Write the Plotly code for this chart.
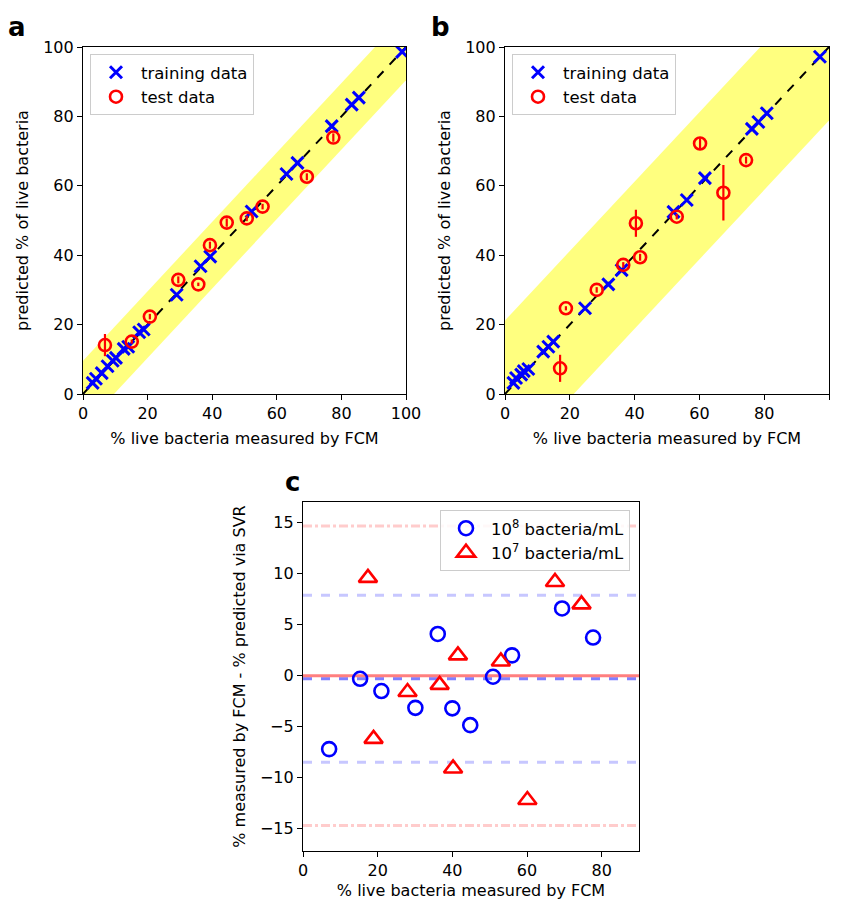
import plotly.graph_objects as go

W, H = 844, 900

# ---------------- Panel a data ----------------
a_train_x = [3.0, 4.0, 5.8, 7.6, 9.2, 10.2, 12.6, 14.0, 17.4, 18.8, 29.0, 36.4, 39.4, 52.2, 63.0, 66.4, 77.0, 83.2, 85.4, 98.8]
a_train_y = [3.2, 4.4, 6.0, 8.0, 9.6, 10.4, 13.0, 13.6, 17.8, 18.6, 28.6, 36.8, 39.6, 52.6, 63.4, 66.6, 77.2, 83.4, 85.4, 98.6]
a_test_x = [6.8, 15.1, 20.7, 29.5, 35.7, 39.3, 44.5, 50.7, 55.6, 69.3, 77.5]
a_test_y = [14.1, 15.1, 22.3, 32.9, 31.6, 42.9, 49.4, 50.6, 54.0, 62.6, 73.9]
a_test_err = [3.2, 0.6, 0.8, 1.0, 0.5, 1.0, 1.2, 0.8, 0.8, 1.0, 1.2]
a_band = 9.6

# ---------------- Panel b data ----------------
b_train_x = [2.6, 3.4, 5.0, 5.8, 7.2, 11.8, 13.4, 14.9, 24.7, 31.9, 36.0, 52.0, 56.1, 61.7, 76.2, 78.2, 80.8, 97.2]
b_train_y = [3.2, 4.6, 5.6, 6.6, 7.2, 12.2, 13.6, 15.1, 24.7, 31.6, 35.7, 52.5, 55.9, 62.2, 76.4, 78.4, 80.9, 97.2]
b_test_x = [17.0, 18.8, 28.3, 36.5, 40.4, 41.7, 53.0, 60.2, 67.4, 74.4]
b_test_y = [7.4, 24.7, 30.0, 37.2, 49.2, 39.4, 51.1, 72.2, 58.0, 67.4]
b_test_err = [3.9, 0.6, 0.8, 0.8, 3.9, 1.0, 0.8, 1.5, 8.0, 1.0]
b_band = 21.2

# ---------------- Panel c data ----------------
c8_x = [7.0, 15.3, 21.0, 30.1, 36.1, 40.0, 44.8, 50.9, 56.0, 69.4, 77.7]
c8_y = [-7.2, -0.3, -1.5, -3.15, 4.1, -3.2, -4.85, -0.1, 2.0, 6.6, 3.75]
c7_x = [17.4, 18.9, 28.0, 36.6, 41.5, 40.2, 53.0, 60.1, 67.5, 74.6]
c7_y = [9.6, -6.2, -1.6, -0.9, 2.0, -9.1, 1.4, -12.2, 9.2, 7.0]
c8_mean, c8_upper, c8_lower = -0.3, 7.9, -8.5
c7_mean, c7_upper, c7_lower = 0.0, 14.7, -14.7

xy_ticks = [0, 20, 40, 60, 80, 100]
c_xticks = [0, 20, 40, 60, 80]
c_yticks = [-15, -10, -5, 0, 5, 10, 15]
c_yticktext = ["\u221215", "\u221210", "\u22125", "0", "5", "10", "15"]

FONT = "DejaVu Sans"
BLUE = "#0000ff"
RED = "#ff0000"

fig = go.Figure()


def band_trace(w, xa, ya):
    lo, hi = 0, 100
    xs = [lo, hi, hi, lo, lo]
    ys = [lo + w, hi + w, hi - w, lo - w, lo + w]
    return go.Scatter(x=xs, y=ys, fill="toself", fillcolor="rgba(255,255,0,0.5)",
                      line=dict(width=0), mode="lines", hoverinfo="skip",
                      showlegend=False, xaxis=xa, yaxis=ya)


def add_panel(xa, ya, leg, tx, ty, sx, sy, se, w):
    fig.add_trace(band_trace(w, xa, ya))
    fig.add_trace(go.Scatter(x=[0, 100], y=[0, 100], mode="lines",
                             line=dict(color="black", width=2, dash="dash"),
                             showlegend=False, xaxis=xa, yaxis=ya))
    fig.add_trace(go.Scatter(x=tx, y=ty, mode="markers", name="training data",
                             marker=dict(symbol="x-thin-open", size=12, color=BLUE,
                                         line=dict(color=BLUE, width=3)),
                             legend=leg, xaxis=xa, yaxis=ya))
    fig.add_trace(go.Scatter(x=sx, y=sy, mode="markers", name="test data",
                             marker=dict(symbol="circle-open", size=12, color=RED,
                                         line=dict(color=RED, width=2.6)),
                             error_y=dict(type="data", array=se, color=RED,
                                          thickness=2.2, width=0),
                             legend=leg, xaxis=xa, yaxis=ya))


add_panel("x", "y", "legend", a_train_x, a_train_y, a_test_x, a_test_y, a_test_err, a_band)
add_panel("x2", "y2", "legend2", b_train_x, b_train_y, b_test_x, b_test_y, b_test_err, b_band)

fig.add_trace(go.Scatter(x=c8_x, y=c8_y, mode="markers",
                         name="10<sup>8</sup> bacteria/mL",
                         marker=dict(symbol="circle-open", size=14, color=BLUE,
                                     line=dict(color=BLUE, width=2.6)),
                         legend="legend3", xaxis="x3", yaxis="y3"))
fig.add_trace(go.Scatter(x=c7_x, y=c7_y, mode="markers",
                         name="10<sup>7</sup> bacteria/mL",
                         marker=dict(symbol="triangle-up-open", size=16, color=RED,
                                     line=dict(color=RED, width=2.6)),
                         legend="legend3", xaxis="x3", yaxis="y3"))

hlines = [
    (c7_upper, "rgba(255,0,0,0.2)", "dashdot"),
    (c7_lower, "rgba(255,0,0,0.2)", "dashdot"),
    (c8_upper, "rgba(0,0,255,0.22)", "dash"),
    (c8_lower, "rgba(0,0,255,0.22)", "dash"),
    (c8_mean, "rgba(0,0,255,0.5)", "dash"),
    (c7_mean, "rgba(255,0,0,0.5)", "solid"),
]
for yv, col, dash in hlines:
    fig.add_shape(type="line", xref="x3 domain", yref="y3", x0=0, x1=1, y0=yv, y1=yv,
                  line=dict(color=col, width=3, dash=dash), layer="below")


def px_x(p):
    return p / W


def px_y(p):
    return 1 - p / H


axis_common = dict(showline=True, linecolor="black", linewidth=1.2, mirror=True,
                   ticks="outside", ticklen=5, tickcolor="black", showgrid=False,
                   zeroline=False, automargin=False,
                   tickfont=dict(family=FONT, size=16, color="black"))
title_font = dict(family=FONT, size=16, color="black")
leg_common = dict(bgcolor="rgba(255,255,255,0.85)", bordercolor="#cccccc", borderwidth=1,
                  font=dict(family=FONT, size=16.5), itemwidth=40)

fig.update_layout(
    width=W, height=H, margin=dict(l=0, r=0, t=0, b=0, autoexpand=False),
    plot_bgcolor="white", paper_bgcolor="white",
    font=dict(family=FONT, size=16, color="black"),
    xaxis=dict(domain=[px_x(83), px_x(406)], range=[0, 100], tickvals=xy_ticks,
               title=dict(text="% live bacteria measured by FCM", font=title_font, standoff=10),
               anchor="y", **axis_common),
    yaxis=dict(domain=[px_y(394), px_y(47)], range=[0, 100], tickvals=xy_ticks,
               title=dict(text="predicted % of live bacteria", font=title_font, standoff=10),
               anchor="x", **axis_common),
    xaxis2=dict(domain=[px_x(505), px_x(829)], range=[0, 100], tickvals=xy_ticks,
                title=dict(text="% live bacteria measured by FCM", font=title_font, standoff=10),
                anchor="y2", **axis_common),
    yaxis2=dict(domain=[px_y(394), px_y(47)], range=[0, 100], tickvals=xy_ticks,
                title=dict(text="predicted % of live bacteria", font=title_font, standoff=10),
                anchor="x2", **axis_common),
    xaxis3=dict(domain=[px_x(303), px_x(639)], range=[0, 90], tickvals=c_xticks,
                title=dict(text="% live bacteria measured by FCM", font=title_font, standoff=10),
                anchor="y3", **axis_common),
    yaxis3=dict(domain=[px_y(851), px_y(502)], range=[-17.2, 17.05], tickvals=c_yticks,
                ticktext=c_yticktext,
                title=dict(text="% measured by FCM - % predicted via SVR", font=title_font, standoff=10),
                anchor="x3", **axis_common),
    legend=dict(x=px_x(90), y=px_y(54), xanchor="left", yanchor="top", **leg_common),
    legend2=dict(x=px_x(512), y=px_y(54), xanchor="left", yanchor="top", **leg_common),
    legend3=dict(x=px_x(630), y=px_y(510), xanchor="right", yanchor="top", **leg_common),
)

for txt, x, y in [("a", 17, 27), ("b", 440, 27), ("c", 292, 482)]:
    fig.add_annotation(text=f"<b>{txt}</b>", x=px_x(x), y=px_y(y), xref="paper", yref="paper",
                       showarrow=False, font=dict(family=FONT, size=26, color="black"),
                       xanchor="center", yanchor="middle")

fig.write_html("out.html")
